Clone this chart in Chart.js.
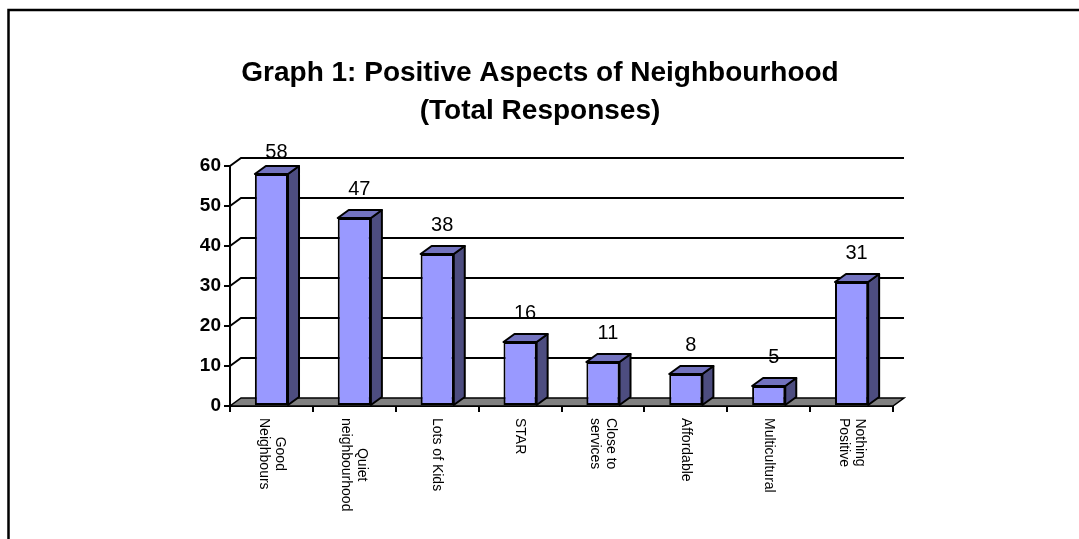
<!DOCTYPE html>
<html>
<head>
<meta charset="utf-8">
<script src="https://cdn.jsdelivr.net/npm/chart.js@4.4.1/dist/chart.umd.min.js"></script>
<style>
  html, body { margin: 0; padding: 0; background: #ffffff; }
  #wrap { width: 1079px; height: 539px; }
</style>
</head>
<body>
<div id="wrap"><canvas id="chart" width="1079" height="539"></canvas></div>
<script>
// Survey answers: positive aspects of the neighbourhood (total responses)
const categories = [
  ['Good', 'Neighbours'],
  ['Quiet', 'neighbourhood'],
  ['Lots of Kids'],
  ['STAR'],
  ['Close to', 'services'],
  ['Affordable'],
  ['Multicultural'],
  ['Nothing', 'Positive']
];
const responses = [58, 47, 38, 16, 11, 8, 5, 31];
const yTicks = [0, 10, 20, 30, 40, 50, 60];
const titleLines = ['Graph 1: Positive Aspects of Neighbourhood', '(Total Responses)'];

const FONT = '"Liberation Sans", Arial, Helvetica, sans-serif';
const DEPTH_X = 11;   // 3D depth offset to the right
const DEPTH_Y = 8;    // 3D depth offset upwards
const FRONT = '#9999ff';
const SIDE = '#4d4d80';
const TOP = '#7373bf';

// Draws the frame, title, 3D floor/back-wall gridlines, bar depth faces and labels
const depthPlugin = {
  id: 'depth3d',
  beforeDraw(chart) {
    const ctx = chart.ctx;
    ctx.save();
    ctx.fillStyle = '#ffffff';
    ctx.fillRect(0, 0, chart.width, chart.height);
    ctx.strokeStyle = '#000000';
    ctx.lineWidth = 2.5;
    ctx.strokeRect(8.5, 10, chart.width + 40, chart.height + 40);
    // title, centred on the page
    ctx.fillStyle = '#000000';
    ctx.font = 'bold 28px ' + FONT;
    ctx.textAlign = 'center';
    ctx.textBaseline = 'middle';
    ctx.fillText(titleLines[0], 540, 73);
    ctx.fillText(titleLines[1], 540, 111);
    ctx.restore();
  },
  beforeDatasetsDraw(chart) {
    const { ctx, chartArea: a, scales: { y } } = chart;
    const L = a.left, R = a.right, B = y.getPixelForValue(0);
    ctx.save();
    // floor
    ctx.beginPath();
    ctx.moveTo(L, B);
    ctx.lineTo(R, B);
    ctx.lineTo(R + DEPTH_X, B - DEPTH_Y);
    ctx.lineTo(L + DEPTH_X, B - DEPTH_Y);
    ctx.closePath();
    ctx.fillStyle = '#808080';
    ctx.fill();
    ctx.strokeStyle = '#000000';
    ctx.lineWidth = 1.5;
    ctx.stroke();
    // gridlines on the left and back walls
    ctx.lineWidth = 2;
    yTicks.forEach(v => {
      if (v === 0) return;
      const py = y.getPixelForValue(v);
      ctx.beginPath();
      ctx.moveTo(L, py);
      ctx.lineTo(L + DEPTH_X, py - DEPTH_Y);
      ctx.lineTo(R + DEPTH_X, py - DEPTH_Y);
      ctx.stroke();
    });
    ctx.restore();
  },
  afterDatasetsDraw(chart) {
    const { ctx, chartArea: a } = chart;
    const meta = chart.getDatasetMeta(0);
    ctx.save();
    ctx.strokeStyle = '#000000';
    ctx.lineWidth = 2;
    ctx.lineJoin = 'round';
    meta.data.forEach((bar, i) => {
      const p = bar.getProps(['x', 'y', 'base', 'width'], true);
      const l = p.x - p.width / 2, r = p.x + p.width / 2;
      // side face
      ctx.beginPath();
      ctx.moveTo(r, p.y);
      ctx.lineTo(r + DEPTH_X, p.y - DEPTH_Y);
      ctx.lineTo(r + DEPTH_X, p.base - DEPTH_Y);
      ctx.lineTo(r, p.base);
      ctx.closePath();
      ctx.fillStyle = SIDE;
      ctx.fill();
      ctx.stroke();
      // top face
      ctx.beginPath();
      ctx.moveTo(l, p.y);
      ctx.lineTo(l + DEPTH_X, p.y - DEPTH_Y);
      ctx.lineTo(r + DEPTH_X, p.y - DEPTH_Y);
      ctx.lineTo(r, p.y);
      ctx.closePath();
      ctx.fillStyle = TOP;
      ctx.fill();
      ctx.stroke();
      // value label
      ctx.fillStyle = '#000000';
      ctx.font = '20px ' + FONT;
      ctx.textAlign = 'center';
      ctx.textBaseline = 'middle';
      const ly = Math.max(p.y - 29, a.top - 14);
      ctx.fillText(String(responses[i]), p.x + 5, ly);
    });
    ctx.restore();
  },
  afterDraw(chart) {
    // category labels, rotated to read top-to-bottom
    const { ctx, scales: { x } } = chart;
    const lineH = 16;
    const topY = 418;
    ctx.save();
    ctx.fillStyle = '#000000';
    ctx.font = '14px ' + FONT;
    ctx.textAlign = 'center';
    ctx.textBaseline = 'middle';
    categories.forEach((lines, i) => {
      const cx = x.getPixelForValue(i);
      const w = Math.max(...lines.map(t => ctx.measureText(t).width));
      ctx.save();
      ctx.translate(cx, topY);
      ctx.rotate(Math.PI / 2);
      lines.forEach((t, k) => {
        ctx.fillText(t, w / 2, (k - (lines.length - 1) / 2) * lineH);
      });
      ctx.restore();
    });
    ctx.restore();
  }
};

new Chart(document.getElementById('chart'), {
  type: 'bar',
  data: {
    labels: categories.map(c => c.join(' ')),
    datasets: [{
      data: responses,
      backgroundColor: FRONT,
      borderColor: '#000000',
      borderWidth: 2,
      borderSkipped: false,
      categoryPercentage: 1,
      barPercentage: 0.4
    }]
  },
  options: {
    responsive: false,
    animation: false,
    devicePixelRatio: 1,
    layout: { padding: { left: 0, right: 186, top: 166, bottom: 0 } },
    plugins: {
      legend: { display: false },
      tooltip: { enabled: false },
      title: { display: false }
    },
    scales: {
      x: {
        afterFit(scale) { scale.height = 133; },
        ticks: { display: false },
        grid: {
          offset: true,
          drawOnChartArea: false,
          drawTicks: true,
          tickLength: 6,
          color: '#000000',
          lineWidth: 2
        },
        border: { display: true, color: '#000000', width: 2 }
      },
      y: {
        min: 0,
        max: 60,
        afterFit(scale) { scale.width = 230; },
        afterBuildTicks(scale) { scale.ticks = yTicks.map(v => ({ value: v })); },
        ticks: {
          color: '#000000',
          padding: 3,
          font: { family: FONT, size: 19, weight: 'bold' }
        },
        grid: {
          drawOnChartArea: false,
          drawTicks: true,
          tickLength: 6,
          color: '#000000',
          lineWidth: 2
        },
        border: { display: true, color: '#000000', width: 2 }
      }
    }
  },
  plugins: [depthPlugin]
});
</script>
</body>
</html>
